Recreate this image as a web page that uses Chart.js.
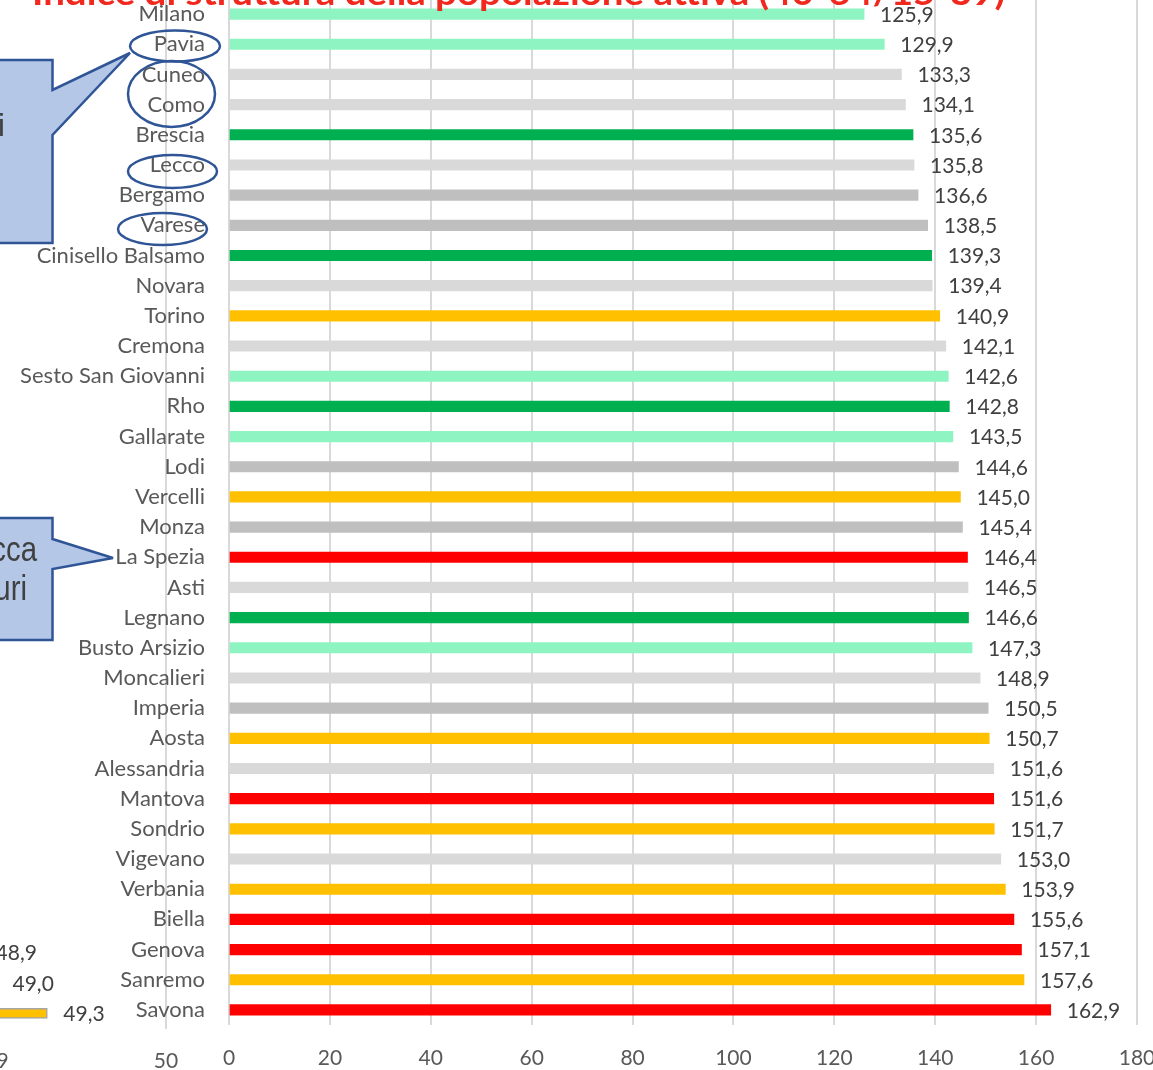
<!DOCTYPE html>
<html>
<head>
<meta charset="utf-8">
<title>Indice di struttura della popolazione attiva</title>
<script src="https://cdn.jsdelivr.net/npm/chart.js@4.4.1/dist/chart.umd.min.js"></script>
<style>
  html, body { margin: 0; padding: 0; background: #ffffff; overflow: hidden; }
  #stage { position: relative; width: 1153px; height: 1070px; overflow: hidden; background: #ffffff; }
  #side { position: absolute; left: -400px; top: -20px; }
  #main { position: absolute; left: 0; top: -20px; }
  #notes { position: absolute; left: 0; top: 0; }
</style>
</head>
<body>
<div id="stage">
  <canvas id="side" width="600" height="1100"></canvas>
  <canvas id="main" width="1153" height="1100"></canvas>
  <svg id="notes" width="1153" height="1070" xmlns="http://www.w3.org/2000/svg">
    <text x="32" y="5" textLength="973" lengthAdjust="spacingAndGlyphs"
          font-family="Lato" font-weight="bold" font-size="34" fill="#f0281e">Indice di struttura della popolazione attiva (40-64/15-39)</text>

    <!-- callout pointing at Pavia -->
    <polygon points="-10,60 52.5,60 52.5,90 130,53 52.5,135 52.5,243 -10,243"
             fill="#b4c7e7" stroke="#2f5597" stroke-width="2.5" stroke-linejoin="miter"/>
    <text x="5" y="136" text-anchor="end" font-family="Liberation Sans" font-size="31" fill="#404040">i</text>

    <!-- callout pointing at La Spezia -->
    <polygon points="-10,518 52.5,518 52.5,539 113,558 52.5,569 52.5,640 -10,640"
             fill="#b4c7e7" stroke="#2f5597" stroke-width="2.5" stroke-linejoin="miter"/>
    <g font-family="Liberation Sans" font-size="35" fill="#404040" text-anchor="end">
      <text transform="translate(37,561) scale(0.84,1)">cca</text>
      <text transform="translate(27,600) scale(0.84,1)">uri</text>
    </g>

    <!-- rings round some city names -->
    <g fill="none" stroke="#2f5597" stroke-width="2.5">
      <ellipse cx="175" cy="46" rx="45" ry="15.5"/>
      <ellipse cx="171.5" cy="94" rx="43.5" ry="33"/>
      <ellipse cx="172.5" cy="171.5" rx="44.5" ry="16.5"/>
      <ellipse cx="162.5" cy="229" rx="44.5" ry="16"/>
    </g>
  </svg>
</div>

<script>
// ---- data -------------------------------------------------------------
const cities = [
  'Milano', 'Pavia', 'Cuneo', 'Como', 'Brescia', 'Lecco', 'Bergamo', 'Varese',
  'Cinisello Balsamo', 'Novara', 'Torino', 'Cremona', 'Sesto San Giovanni', 'Rho',
  'Gallarate', 'Lodi', 'Vercelli', 'Monza', 'La Spezia', 'Asti', 'Legnano',
  'Busto Arsizio', 'Moncalieri', 'Imperia', 'Aosta', 'Alessandria', 'Mantova',
  'Sondrio', 'Vigevano', 'Verbania', 'Biella', 'Genova', 'Sanremo', 'Savona'
];

const indexValues = [
  125.9, 129.9, 133.3, 134.1, 135.6, 135.8, 136.6, 138.5,
  139.3, 139.4, 140.9, 142.1, 142.6, 142.8,
  143.5, 144.6, 145.0, 145.4, 146.4, 146.5, 146.6,
  147.3, 148.9, 150.5, 150.7, 151.6, 151.6,
  151.7, 153.0, 153.9, 155.6, 157.1, 157.6, 162.9
];

const xTicks = { min: 0, max: 180, step: 20 };

// neighbouring panel: only its last three rows are in view
const sideValues = [48.9, 49.0, 49.3];
const sideTicks = { min: 48, max: 50, step: 1 };

// ---- styling ------------------------------------------------------------
const MINT = '#8ef4c2', GREEN = '#00b050', LIGHT = '#d9d9d9', MID = '#bfbfbf',
      GOLD = '#ffc000', RED = '#ff0000';

const barColors = [
  MINT, MINT, LIGHT, LIGHT, GREEN, LIGHT, MID, MID,
  GREEN, LIGHT, GOLD, LIGHT, MINT, GREEN,
  MINT, MID, GOLD, MID, RED, LIGHT, GREEN,
  MINT, LIGHT, MID, GOLD, LIGHT, RED,
  GOLD, LIGHT, GOLD, RED, RED, GOLD, RED
];

const FONT = 'Lato';
const fmt = v => v.toFixed(1).replace('.', ',');

// keep tick-label overhang from pushing the plot area inwards
const noEdgePadding = scale => {
  scale.paddingTop = 0; scale.paddingBottom = 0;
  scale.paddingLeft = 0; scale.paddingRight = 0;
};

// value text written just past the end of each bar
const valueLabels = {
  id: 'valueLabels',
  afterDatasetsDraw(chart, args, opts) {
    const { ctx } = chart;
    const ds = chart.data.datasets[0];
    const meta = chart.getDatasetMeta(0);
    ctx.save();
    ctx.font = `${opts.size}px ${FONT}`;
    ctx.fillStyle = opts.color;
    ctx.textAlign = 'left';
    ctx.textBaseline = 'middle';
    meta.data.forEach((bar, i) => {
      const v = ds.data[i];
      if (v === null || v === undefined) return;
      ctx.fillText(fmt(v), bar.x + opts.offset, bar.y + opts.dy);
    });
    ctx.restore();
  }
};

// ---- main chart -------------------------------------------------------
new Chart(document.getElementById('main'), {
  type: 'bar',
  data: {
    labels: cities,
    datasets: [{
      data: indexValues,
      backgroundColor: barColors,
      borderWidth: 0,
      barThickness: 10.5
    }]
  },
  options: {
    indexAxis: 'y',
    responsive: false,
    maintainAspectRatio: false,
    animation: false,
    layout: { padding: { top: 19, right: 16, left: 0, bottom: 0 } },
    plugins: {
      legend: { display: false },
      tooltip: { enabled: false },
      valueLabels: { size: 21, color: '#404040', offset: 16, dy: 1 }
    },
    scales: {
      x: {
        min: xTicks.min,
        max: xTicks.max,
        ticks: {
          stepSize: xTicks.step,
          color: '#595959',
          font: { family: FONT, size: 21 },
          padding: 21
        },
        grid: { color: '#d9d9d9', lineWidth: 2, drawTicks: false },
        border: { display: false },
        afterFit(scale) { scale.height = 55; noEdgePadding(scale); }
      },
      y: {
        ticks: {
          color: '#595959',
          font: { family: FONT, size: 22 },
          padding: 24,
          autoSkip: false
        },
        grid: { display: false, drawTicks: false },
        border: { display: false },
        afterFit(scale) { scale.width = 229; noEdgePadding(scale); }
      }
    }
  },
  plugins: [valueLabels]
});

// ---- neighbouring panel (mostly out of view) ---------------------------
const sideData = cities.map((_, i) => {
  const k = i - (cities.length - sideValues.length);
  return k >= 0 ? sideValues[k] : null;
});

new Chart(document.getElementById('side'), {
  type: 'bar',
  data: {
    labels: cities,
    datasets: [{
      data: sideData,
      backgroundColor: GOLD,
      borderColor: '#a6a6a6',
      borderWidth: 1.5,
      borderSkipped: false,
      barThickness: 10
    }]
  },
  options: {
    indexAxis: 'y',
    responsive: false,
    maintainAspectRatio: false,
    animation: false,
    layout: { padding: { top: 17, right: 34, left: 227, bottom: 0 } },
    plugins: {
      legend: { display: false },
      tooltip: { enabled: false },
      valueLabels: { size: 21, color: '#404040', offset: 16, dy: 1 }
    },
    scales: {
      x: {
        min: sideTicks.min,
        max: sideTicks.max,
        ticks: {
          stepSize: sideTicks.step,
          color: '#595959',
          font: { family: FONT, size: 21 },
          padding: 20
        },
        grid: { color: '#d9d9d9', lineWidth: 2, drawTicks: false },
        border: { display: false },
        afterFit(scale) { scale.height = 51.5; noEdgePadding(scale); }
      },
      y: { display: false }
    }
  },
  plugins: [valueLabels]
});
</script>
</body>
</html>
